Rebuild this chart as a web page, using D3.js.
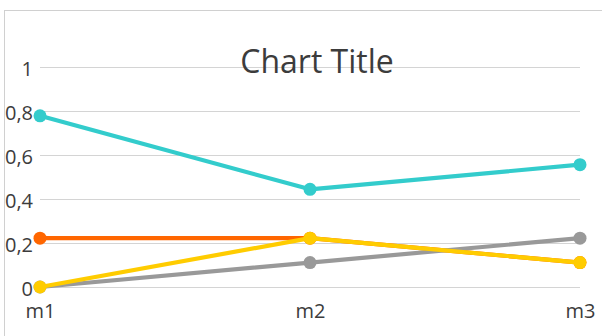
<!DOCTYPE html>
<html>
<head>
<meta charset="utf-8">
<script src="https://cdn.jsdelivr.net/npm/d3@7"></script>
<style>
  html, body { margin: 0; padding: 0; background: #fff; }
  svg { display: block; }
  text { font-family: "Open Sans", "Noto Sans", sans-serif; fill: #404040; }
</style>
</head>
<body>
<svg id="chart" width="602" height="336"></svg>
<script>
// Categories and series values
const categories = ["m1", "m2", "m3"];
const cyanValues   = [0.778, 0.444, 0.556];
const orangeValues = [0.222, 0.222, 0.111];
const grayValues   = [0, 0.111, 0.222];
const yellowValues = [0, 0.222, 0.111];
const yTicks = [0, 0.2, 0.4, 0.6, 0.8, 1];
const titleText = "Chart Title";

const series = [
  { values: cyanValues,   color: "#33CCCC" },
  { values: orangeValues, color: "#FF6600" },
  { values: grayValues,   color: "#999999" },
  { values: yellowValues, color: "#FFCC00" }
];

const svg = d3.select("#chart");
const W = 602, H = 336;
const plot = { left: 40, right: 580, top: 67, bottom: 287 };

// Chart area frame (left and top edges visible)
svg.append("line").attr("x1", 4.5).attr("x2", 4.5).attr("y1", 10).attr("y2", H)
  .attr("stroke", "#d0d0d0").attr("stroke-width", 1);
svg.append("line").attr("x1", 4).attr("x2", W).attr("y1", 10.5).attr("y2", 10.5)
  .attr("stroke", "#d0d0d0").attr("stroke-width", 1);

const x = d3.scalePoint().domain(categories).range([plot.left, plot.right]);
const y = d3.scaleLinear().domain([0, 1]).range([plot.bottom, plot.top]);

// Horizontal gridlines
svg.append("g").selectAll("line").data(yTicks).join("line")
  .attr("x1", plot.left).attr("x2", plot.right)
  .attr("y1", d => Math.round(y(d)) + 0.5).attr("y2", d => Math.round(y(d)) + 0.5)
  .attr("stroke", "#d4d4d4").attr("stroke-width", 1);

// Y axis labels (comma decimal separator)
const fmt = d => d3.format("~g")(d).replace(".", ",");
const yAxis = d3.axisLeft(y).tickValues(yTicks).tickFormat(fmt).tickSize(0).tickPadding(0);
const gy = svg.append("g").attr("transform", `translate(33,0)`).call(yAxis);
gy.select(".domain").remove();
gy.selectAll("text").attr("font-size", 20).attr("dy", "0.42em").style("fill", "#3c3c3c");

// X axis labels
const xAxis = d3.axisBottom(x).tickSize(0).tickPadding(0);
const gx = svg.append("g").attr("transform", `translate(0,${plot.bottom})`).call(xAxis);
gx.select(".domain").remove();
gx.selectAll("text").attr("font-size", 20).attr("y", 31).attr("dy", 0).style("fill", "#3c3c3c");

// Title
svg.append("text").attr("x", 317).attr("y", 73).attr("text-anchor", "middle")
  .attr("font-size", 32).style("fill", "#3c3c3c").text(titleText);

// Series lines and markers
const line = d3.line().x((d, i) => x(categories[i])).y(d => y(d));
series.forEach(s => {
  const g = svg.append("g");
  g.append("path").datum(s.values).attr("d", line)
    .attr("fill", "none").attr("stroke", s.color).attr("stroke-width", 4.2)
    .attr("stroke-linejoin", "round").attr("stroke-linecap", "round");
  g.selectAll("circle").data(s.values).join("circle")
    .attr("cx", (d, i) => x(categories[i])).attr("cy", d => y(d))
    .attr("r", 6.5).attr("fill", s.color);
});
</script>
</body>
</html>
